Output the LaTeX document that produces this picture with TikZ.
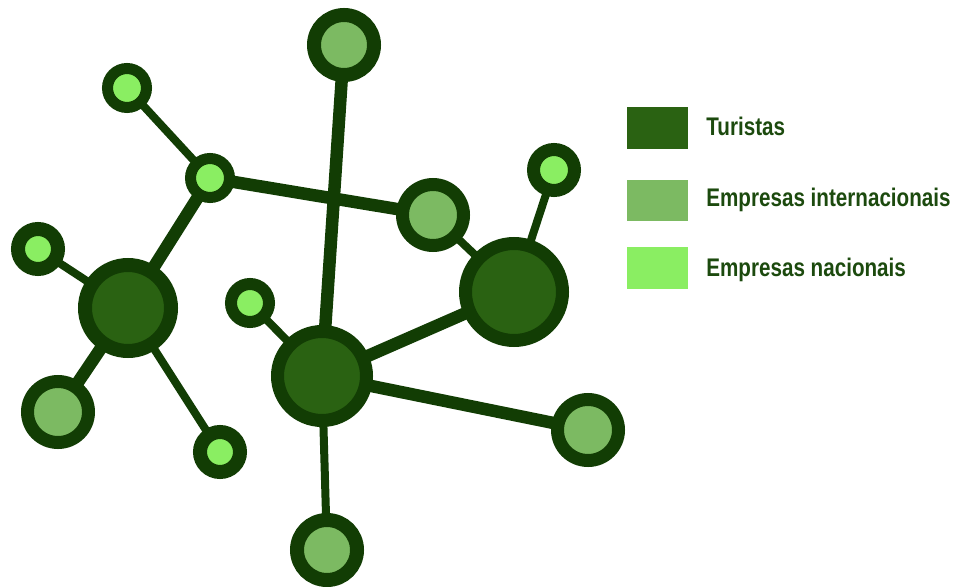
\documentclass[tikz,border=0pt]{standalone}
\usepackage{fontspec}
\setmainfont{Liberation Sans}[FakeStretch=0.81]
\usetikzlibrary{backgrounds}
\definecolor{outl}{HTML}{123D04}
\definecolor{tur}{HTML}{2A6212}
\definecolor{inter}{HTML}{7CBA62}
\definecolor{nac}{HTML}{8AEE62}
\definecolor{legtext}{HTML}{1C4A0E}
\tikzset{
  nd/.style n args={3}{circle, draw=outl, fill=#1, inner sep=0pt,
    line width=(#2-#3)*0.02cm, minimum size=(#2+#3)*0.02cm},
  thick edge/.style={draw=outl, line width=0.25cm},
  thin edge/.style={draw=outl, line width=0.16cm},
  legbox/.style={minimum width=1.22cm, minimum height=0.83cm, inner sep=0pt},
  legtxt/.style={anchor=base west, inner sep=0pt, text=legtext, font=\fontsize{14.5}{17}\selectfont\bfseries}
}
\begin{document}
\begin{tikzpicture}[x=0.02cm,y=-0.02cm]
\useasboundingbox (0,0) rectangle (955,587);
% nodes
\node[nd={inter}{37}{23}] (top) at (344,45) {};
\node[nd={nac}{25}{14}] (tl) at (127,88) {};
\node[nd={nac}{25}{14}] (hub) at (210,178) {};
\node[nd={inter}{37}{24}] (mr) at (433,215) {};
\node[nd={nac}{27}{14}] (rt) at (554,170) {};
\node[nd={tur}{55}{42}] (bigr) at (514,292) {};
\node[nd={nac}{27}{13}] (sl) at (38,249) {};
\node[nd={tur}{50}{36}] (bigl) at (128,308) {};
\node[nd={nac}{25}{13}] (sc) at (250,303) {};
\node[nd={tur}{51}{38}] (bigc) at (322,376) {};
\node[nd={inter}{37}{24}] (ml) at (58,412) {};
\node[nd={nac}{27}{13}] (sb) at (220,452) {};
\node[nd={inter}{37}{24}] (rm) at (588,430) {};
\node[nd={inter}{37}{23}] (bot) at (327,550) {};
% edges
\begin{pgfonlayer}{background}
\draw[thin edge] (tl.center) -- (hub.center);
\draw[thick edge] (hub.center) -- (bigl.center);
\draw[thick edge] (hub.center) -- (mr.center);
\draw[thick edge] (top.center) -- (bigc.center);
\draw[thin edge] (mr.center) -- (bigr.center);
\draw[thin edge] (rt.center) -- (bigr.center);
\draw[thick edge] (bigc.center) -- (bigr.center);
\draw[thick edge] (bigc.center) -- (rm.center);
\draw[thin edge] (bigc.center) -- (bot.center);
\draw[thin edge] (sc.center) -- (bigc.center);
\draw[thin edge] (sl.center) -- (bigl.center);
\draw[thick edge] (bigl.center) -- (ml.center);
\draw[thin edge] (bigl.center) -- (sb.center);
\end{pgfonlayer}
% legend
\node[legbox, fill=tur] (l1) at (657.5,128) {};
\node[legbox, fill=inter] (l2) at (657.5,200.5) {};
\node[legbox, fill=nac] (l3) at (657.5,268) {};
\node[legtxt] (t1) at (706,136) {Turistas};
\node[legtxt] (t2) at (706,207) {Empresas internacionais};
\node[legtxt] (t3) at (706,276) {Empresas nacionais};
\end{tikzpicture}
\end{document}
